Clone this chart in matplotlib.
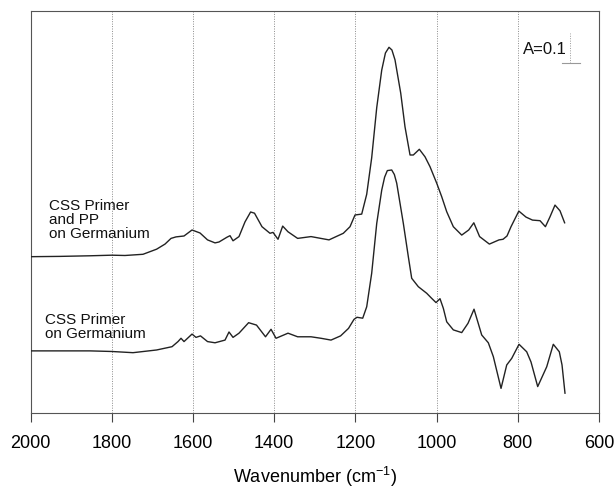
import numpy as np
import matplotlib.pyplot as plt

plt.rcParams['font.family'] = ['Liberation Sans', 'DejaVu Sans']

# Spektrum: CSS Primer + PP auf Germanium (obere Kurve)
wn_pp = [2000, 1927.4, 1853.5, 1800, 1767.3, 1723, 1689.5, 1668.8, 1654, 1641.7,
         1622, 1602.3, 1582.6, 1564.1, 1545.6, 1535.8, 1516.1, 1508.7, 1501.3, 1486.6,
         1471.8, 1458, 1448.4, 1430, 1410.3, 1402.8, 1390.5, 1379, 1365.9, 1342.2,
         1309.2, 1265, 1229.7, 1213.2, 1200.9, 1184.4, 1172.1, 1159.8, 1147.4, 1135.1,
         1126, 1117.2, 1110, 1102.4, 1088.3, 1077.8, 1065.4, 1057.3, 1042.5, 1028.5,
         1016.2, 999.7, 987.4, 975.1, 958.8, 938.1, 920.9, 908.3, 894.1, 870,
         846.3, 836.4, 826.6, 816.7, 797.5, 779.8, 763.8, 745.3, 732, 720.7,
         708.4, 696.1, 684.7]
abs_pp = [0.521, 0.522, 0.524, 0.526, 0.525, 0.529, 0.546, 0.563, 0.582, 0.587,
          0.590, 0.610, 0.600, 0.577, 0.567, 0.570, 0.586, 0.591, 0.574, 0.588,
          0.637, 0.670, 0.666, 0.621, 0.599, 0.602, 0.579, 0.623, 0.604, 0.582,
          0.588, 0.577, 0.599, 0.621, 0.660, 0.663, 0.729, 0.851, 1.018, 1.143,
          1.200, 1.219, 1.210, 1.177, 1.066, 0.954, 0.860, 0.860, 0.879, 0.854,
          0.821, 0.766, 0.721, 0.671, 0.621, 0.593, 0.610, 0.634, 0.588, 0.563,
          0.577, 0.579, 0.590, 0.621, 0.673, 0.653, 0.643, 0.641, 0.621, 0.654,
          0.693, 0.674, 0.634]

# Spektrum: CSS Primer auf Germanium (untere Kurve)
wn_css = [2000, 1927.4, 1853.5, 1800, 1747.6, 1689.5, 1651.5, 1636.8, 1629.4, 1622,
          1602.3, 1592.5, 1581.4, 1564.1, 1545.6, 1521, 1511.2, 1501.3, 1486.6, 1462.9,
          1443.5, 1421.3, 1407.7, 1395.4, 1365.9, 1342.2, 1309.2, 1284.6, 1260, 1236.4,
          1216.9, 1203.4, 1196, 1181.9, 1172.1, 1159.8, 1147.4, 1135.1, 1128, 1121.3,
          1110.5, 1104, 1098.2, 1081.9, 1069.6, 1061.3, 1045, 1024.3, 1012, 1001.4,
          991.6, 983.4, 975.1, 958.8, 938.1, 922.6, 907.8, 888.9, 872.6, 860.3,
          841.3, 827.3, 815, 797, 778.1, 767.5, 751, 728.8, 712.6, 697.8,
          691.1, 683.8]
abs_css = [0.207, 0.207, 0.207, 0.205, 0.201, 0.210, 0.221, 0.238, 0.249, 0.238,
           0.263, 0.252, 0.257, 0.238, 0.234, 0.243, 0.270, 0.252, 0.266, 0.301,
           0.293, 0.254, 0.279, 0.249, 0.266, 0.254, 0.254, 0.249, 0.243, 0.257,
           0.282, 0.312, 0.319, 0.316, 0.354, 0.466, 0.632, 0.743, 0.786, 0.808,
           0.810, 0.795, 0.766, 0.632, 0.521, 0.449, 0.421, 0.399, 0.382, 0.368,
           0.381, 0.349, 0.304, 0.277, 0.268, 0.299, 0.346, 0.260, 0.234, 0.188,
           0.082, 0.160, 0.182, 0.229, 0.204, 0.170, 0.088, 0.154, 0.229, 0.204,
           0.160, 0.066]

grid_wn = [1800, 1600, 1400, 1200, 1000, 800]
tick_wn = [2000, 1800, 1600, 1400, 1200, 1000, 800, 600]

fig = plt.figure(figsize=(6.14, 4.91), dpi=100)
ax = fig.add_axes([0.0497, 0.1589, 0.9259, 0.8187])

for g in grid_wn:
    ax.axvline(g, color='#8a8a8a', lw=0.7, ls=(0, (1, 1.5)), zorder=1)

ax.plot(wn_pp, abs_pp, color='#222222', lw=1.0, zorder=3)
ax.plot(wn_css, abs_css, color='#222222', lw=1.0, zorder=3)

ax.text(1954, 0.643, 'CSS Primer\nand PP\non Germanium', fontsize=11,
        ha='left', va='center', linespacing=1.0, color='#111111')
ax.text(1964, 0.287, 'CSS Primer\non Germanium', fontsize=11,
        ha='left', va='center', linespacing=1.0, color='#111111')

# Massstab A = 0.1
ax.plot([671.4, 671.4], [1.167, 1.267], color='#999999', lw=0.7, ls=(0, (1, 1.5)))
ax.plot([690.9, 646.6], [1.167, 1.167], color='#999999', lw=0.8)
ax.text(733, 1.21, 'A=0.1', fontsize=12, ha='center', va='center', color='#111111')

ax.set_xlim(2000, 600)
ax.set_ylim(0, 1.34)
ax.set_xticks(tick_wn)
ax.set_xticklabels([str(t) for t in tick_wn], fontsize=13)
ax.set_yticks([])
ax.tick_params(axis='x', direction='out', length=6.5, width=0.8, pad=9, color='#444444')
for s in ax.spines.values():
    s.set_color('#555555')
    s.set_linewidth(0.8)

ax.set_xlabel('Wavenumber (cm$^{\\mathregular{-1}}$)', fontsize=13, labelpad=10)

plt.savefig('out.png', dpi=100)
